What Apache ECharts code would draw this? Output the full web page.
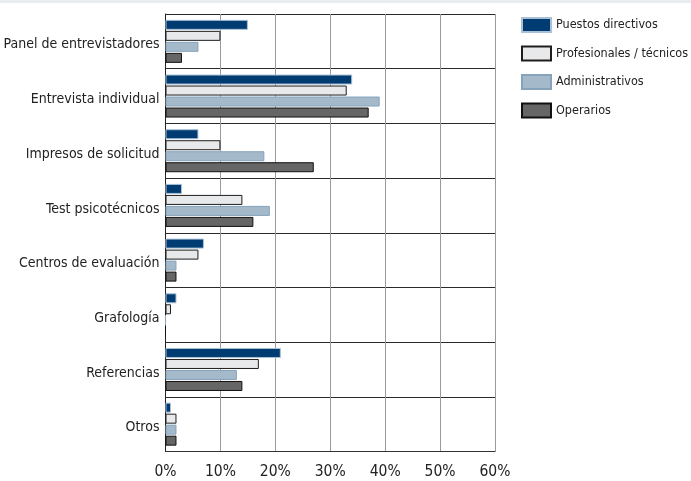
<!DOCTYPE html>
<html>
<head>
<meta charset="utf-8">
<script src="https://cdn.jsdelivr.net/npm/echarts@6/dist/echarts.min.js"></script>
<style>
  html, body { margin: 0; padding: 0; background: #ffffff; }
  #chart { width: 691px; height: 481px; }
</style>
</head>
<body>
<div id="chart"></div>
<script>
// Selection methods by job group (% of organisations)
const categories = [
  'Panel de entrevistadores',
  'Entrevista individual',
  'Impresos de solicitud',
  'Test psicotécnicos',
  'Centros de evaluación',
  'Grafología',
  'Referencias',
  'Otros'
];
const seriesNames = ['Puestos directivos', 'Profesionales / técnicos', 'Administrativos', 'Operarios'];
const directivos = [15, 34, 6, 3, 7, 2, 21, 1];
const profesionales = [10, 33, 10, 14, 6, 1, 17, 2];
const administrativos = [6, 39, 18, 19, 2, 0, 13, 2];
const operarios = [3, 37, 27, 16, 2, 0, 14, 2];
const xTicks = [0, 10, 20, 30, 40, 50, 60];

const FONT = "'DejaVu Sans Condensed', 'Liberation Sans Narrow', sans-serif";

const styles = [
  { color: '#003b71', borderColor: '#a9c0d6' },
  { color: '#e8e9eb', borderColor: '#1e1e1e' },
  { color: '#a4b9ca', borderColor: '#86a3bb' },
  { color: '#666666', borderColor: '#111111' }
];
const values = [directivos, profesionales, administrativos, operarios];

const chart = echarts.init(document.getElementById('chart'), null, { renderer: 'canvas' });

chart.setOption({
  animation: false,
  backgroundColor: '#ffffff',
  graphic: [{
    type: 'rect',
    shape: { x: 0, y: 0, width: 691, height: 3 },
    style: { fill: '#e9edf1' },
    silent: true
  }],
  legend: {
    orient: 'vertical',
    left: 521,
    top: 17,
    padding: 0,
    itemWidth: 29,
    itemHeight: 14,
    itemGap: 12.5,
    icon: 'rect',
    textStyle: { fontFamily: FONT, fontSize: 12.5, color: '#222222' },
    data: seriesNames
  },
  grid: {
    left: 165.5, right: 196, top: 14, bottom: 29.5,
    containLabel: false,
    outerBoundsMode: 'none'
  },
  xAxis: {
    type: 'value',
    min: xTicks[0],
    max: xTicks[xTicks.length - 1],
    interval: 10,
    axisLine: { show: true, lineStyle: { color: '#333333', width: 1 } },
    axisTick: { show: false },
    splitLine: { show: true, lineStyle: { color: '#9a9a9a', width: 1 } },
    axisLabel: {
      margin: 12,
      fontFamily: FONT,
      fontSize: 15.5,
      color: '#222222',
      formatter: v => v + '%'
    }
  },
  yAxis: {
    type: 'category',
    inverse: true,
    data: categories,
    axisLine: { show: true, lineStyle: { color: '#222222', width: 1 } },
    axisTick: { show: false },
    splitLine: { show: true, lineStyle: { color: '#2a2a2a', width: 1 } },
    axisLabel: {
      margin: 6,
      formatter: v => '{t|' + v + '}',
      rich: {
        t: {
          fontFamily: FONT,
          fontSize: 14,
          color: '#222222',
          padding: [7, 0, 0, 0]
        }
      }
    }
  },
  series: seriesNames.map((name, i) => ({
    name: name,
    type: 'bar',
    data: values[i],
    barWidth: 10,
    barGap: '10%',
    itemStyle: {
      color: styles[i].color,
      borderColor: styles[i].borderColor,
      borderWidth: 1
    }
  }))
});
</script>
</body>
</html>
